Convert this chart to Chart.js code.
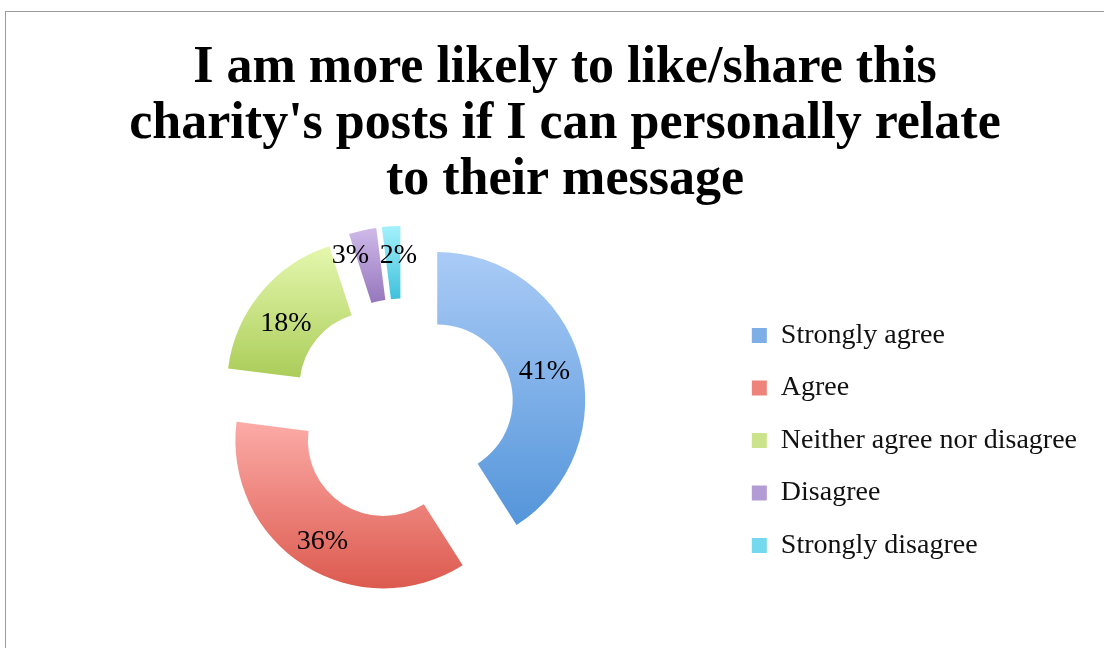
<!DOCTYPE html>
<html>
<head>
<meta charset="utf-8">
<script src="https://cdn.jsdelivr.net/npm/chart.js@4.4.0/dist/chart.umd.min.js"></script>
<style>
  html, body { margin: 0; padding: 0; background: #fff; overflow: hidden; }
  #frame { position: absolute; left: 5px; top: 11px; width: 1200px; height: 700px; border: 1px solid #9c9c9c; }
  #wrap { position: absolute; left: 0; top: 0; width: 1104px; height: 648px; }
</style>
</head>
<body>
<div id="frame"></div>
<div id="wrap"><canvas id="chart"></canvas></div>
<script>
const titleLines = [
  "I am more likely to like/share this",
  "charity's posts if I can personally relate",
  "to their message"
];
const categories = ["Strongly agree", "Agree", "Neither agree nor disagree", "Disagree", "Strongly disagree"];
const shares = [41, 36, 18, 3, 2];

// slice shading: light at the top, darker at the bottom
const topColors = ["#aacbf6", "#fcaba7", "#e5f7ae", "#cfbae9", "#a5f1fc"];
const bottomColors = ["#5495da", "#dc5a4f", "#abcd5a", "#9576bd", "#3ec1dc"];
const boxColors = ["#7eaee6", "#ee837c", "#cbe38a", "#b39bd6", "#74d9ee"];

// small shifts for the crowded labels on the thin slices
const labelNudge = [[0, 3], [-1, 7], [-3, 8], [-20, -10], [5, -7]];

const explodeGap = 36;
const serif = "'Liberation Serif', 'Times New Roman', serif";

function arcBounds(arc) {
  let top = Infinity, bottom = -Infinity;
  for (let k = 0; k <= 32; k++) {
    const a = arc.startAngle + (arc.endAngle - arc.startAngle) * k / 32;
    [arc.innerRadius, arc.outerRadius].forEach(r => {
      const y = arc.y + Math.sin(a) * r;
      top = Math.min(top, y);
      bottom = Math.max(bottom, y);
    });
  }
  return { top, bottom };
}

// pulls every slice out along its middle angle and paints the gradient
const explodePlugin = {
  id: "explode",
  afterDatasetsUpdate(chart) {
    const ctx = chart.ctx;
    chart.getDatasetMeta(0).data.forEach((arc, i) => {
      const mid = (arc.startAngle + arc.endAngle) / 2;
      arc.x += Math.cos(mid) * explodeGap;
      arc.y += Math.sin(mid) * explodeGap;
      const b = arcBounds(arc);
      const g = ctx.createLinearGradient(0, b.top, 0, b.bottom);
      g.addColorStop(0, topColors[i]);
      g.addColorStop(1, bottomColors[i]);
      arc.options.backgroundColor = g;
    });
  }
};

const valueLabels = {
  id: "valueLabels",
  afterDatasetsDraw(chart) {
    const ctx = chart.ctx;
    ctx.save();
    ctx.font = "28px " + serif;
    ctx.fillStyle = "#000";
    ctx.textAlign = "center";
    ctx.textBaseline = "middle";
    chart.getDatasetMeta(0).data.forEach((arc, i) => {
      const p = arc.getCenterPoint();
      ctx.fillText(shares[i] + "%", p.x + labelNudge[i][0], p.y + labelNudge[i][1]);
    });
    ctx.restore();
  }
};

// empty box on the left so the ring sits left of the title centre
const leftGap = {
  id: "leftGap",
  beforeInit(chart) {
    Chart.layouts.addBox(chart, {
      position: "left",
      weight: 0,
      fullSize: false,
      options: {},
      left: 0, top: 0, right: 0, bottom: 0, width: 0, height: 0,
      isHorizontal() { return false; },
      update(maxWidth, maxHeight) { this.width = 35; this.height = maxHeight; },
      draw() {}
    });
  }
};

new Chart(document.getElementById("chart"), {
  type: "doughnut",
  data: {
    labels: categories,
    datasets: [{
      data: shares,
      backgroundColor: boxColors,
      borderWidth: 0,
      clip: false
    }]
  },
  options: {
    responsive: true,
    maintainAspectRatio: false,
    animation: false,
    events: [],
    radius: 148,
    cutout: "51%",
    layout: { padding: { left: 43, right: 17, top: 0, bottom: 64 } },
    plugins: {
      tooltip: { enabled: false },
      title: {
        display: true,
        text: titleLines,
        color: "#000",
        font: { family: serif, size: 52, weight: "bold", lineHeight: "56px" },
        padding: { top: 41, bottom: 27 }
      },
      legend: {
        position: "right",
        align: "start",
        fullSize: false,
        maxWidth: 420,
        title: { display: true, text: "", font: { size: 10 }, padding: { top: 49, bottom: 0 } },
        labels: {
          boxWidth: 15,
          boxHeight: 15,
          padding: 24.5,
          color: "#111",
          font: { family: serif, size: 28 }
        }
      }
    }
  },
  plugins: [leftGap, explodePlugin, valueLabels]
});
</script>
</body>
</html>
